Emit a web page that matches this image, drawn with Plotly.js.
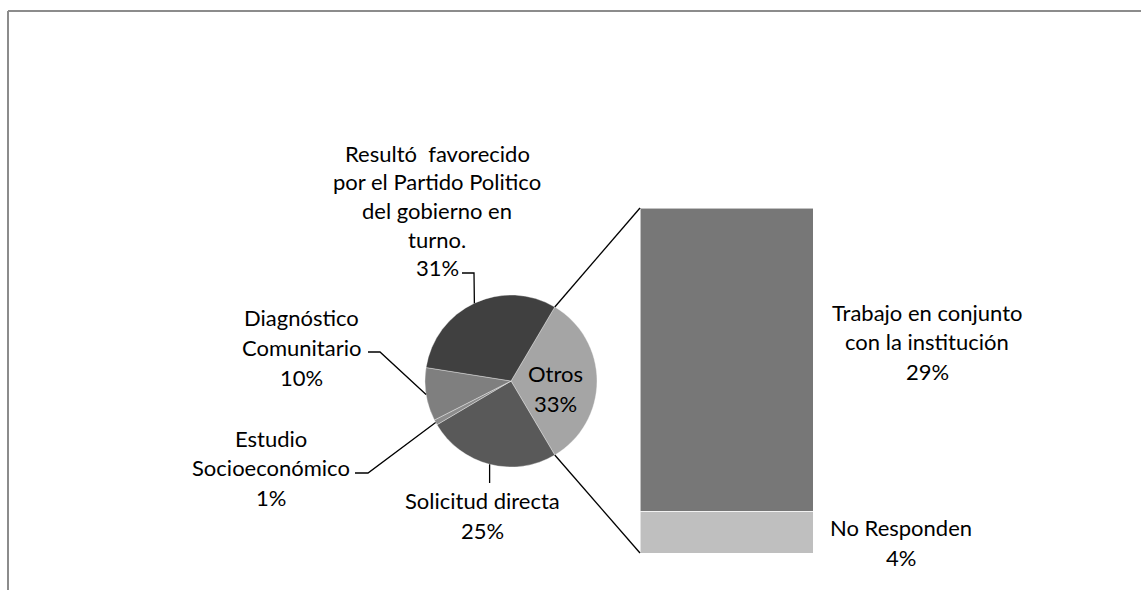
<!DOCTYPE html>
<html>
<head>
<meta charset="utf-8">
<script src="https://cdn.plot.ly/plotly-3.0.1.min.js"></script>
<style>
  html, body { margin: 0; padding: 0; background: #ffffff; }
  #chart { width: 1141px; height: 590px; }
</style>
</head>
<body>
<div id="chart"></div>
<script>
// ---------------- DATA ----------------
const pieCategories = ['Otros', 'Solicitud directa', 'Estudio Socioeconómico', 'Diagnóstico Comunitario',
  'Resultó  favorecido por el Partido Politico del gobierno en turno.'];
const pieValues = [33, 25, 1, 10, 31];
const pieLabelLines = [
  ['Otros'],
  ['Solicitud directa'],
  ['Estudio', 'Socioeconómico'],
  ['Diagnóstico', 'Comunitario'],
  ['Resultó  favorecido', 'por el Partido Politico', 'del gobierno en', 'turno.']
];
const barCategories = ['No Responden', 'Trabajo en conjunto con la institución'];
const barValues = [4, 29];
const barLabelLines = [
  ['No Responden'],
  ['Trabajo en conjunto', 'con la institución']
];

// ---------------- STYLE / LAYOUT CONFIG ----------------
const W = 1141, H = 590;
const FONT = 'Lato, "Open Sans", sans-serif';
const FS = 22;
const pieColors = ['#a5a5a5', '#595959', '#8c8c8c', '#7f7f7f', '#404040'];
const barColors = ['#bfbfbf', '#777777'];
const pie = { cx: 511, cy: 381, r: 86 };
const barBox = { left: 640, right: 813, top: 208, bottom: 553 };

// label placement (pixels): centre x, first line y, spacing, leader elbow
const pieLabelPos = [
  { x: 555, y: 373, dy: 30, inside: true },
  { x: 482, y: 500, dy: 30, leader: 'vertical', ly: 483 },
  { x: 271, y: 438, dy: 29.5, leader: [[355, 473], [368, 473]] },
  { x: 301, y: 317, dy: 30, leader: [[368, 352], [380, 352]] },
  { x: 437, y: 153, dy: 28.7, leader: [[462, 273], [474, 273]] }
];
const barLabelPos = [
  { x: 901, y: 527, dy: 30 },
  { x: 927, y: 312, dy: 29.5 }
];

// ---------------- BUILD ----------------
const px = x => x / W;
const py = y => 1 - y / H;

const pieTotal = pieValues.reduce((a, b) => a + b, 0);
const rotation = 90 - (pieValues[0] / pieTotal) * 360 / 2; // first slice centred on the right
function piePoint(compassDeg, rr) {
  const a = compassDeg * Math.PI / 180;
  return [pie.cx + rr * Math.sin(a), pie.cy - rr * Math.cos(a)];
}
// slice angles (clockwise from rotation)
const sliceAngles = [];
let acc = rotation;
pieValues.forEach(v => {
  const span = v / pieTotal * 360;
  sliceAngles.push({ start: acc, end: acc + span, mid: acc + span / 2 });
  acc += span;
});

const pieTrace = {
  type: 'pie',
  labels: pieCategories,
  values: pieValues,
  sort: false,
  direction: 'clockwise',
  rotation: rotation,
  textinfo: 'none',
  hoverinfo: 'skip',
  marker: { colors: pieColors, line: { color: 'rgba(255,255,255,0.35)', width: 1 } },
  domain: { x: [px(pie.cx - pie.r), px(pie.cx + pie.r)], y: [py(pie.cy + pie.r), py(pie.cy - pie.r)] },
  showlegend: false
};

const barTotal = barValues.reduce((a, b) => a + b, 0);
const barTraces = barValues.map((v, i) => ({
  type: 'bar',
  x: [0],
  y: [v],
  width: [1],
  name: barCategories[i],
  marker: { color: barColors[i], line: { color: 'rgba(255,255,255,0.55)', width: 1 } },
  hoverinfo: 'skip',
  showlegend: false,
  xaxis: 'x',
  yaxis: 'y'
}));

const annotations = [];
function addLines(lines, pos) {
  lines.forEach((t, k) => {
    annotations.push({
      text: t, x: px(pos.x), y: py(pos.y + k * pos.dy), xref: 'paper', yref: 'paper',
      xanchor: 'center', yanchor: 'middle', showarrow: false,
      font: { family: FONT, size: FS, color: '#000000' }
    });
  });
}
pieValues.forEach((v, i) => {
  const pct = Math.round(v / pieTotal * 100) + '%';
  addLines(pieLabelLines[i].concat([pct]), pieLabelPos[i]);
});
barValues.forEach((v, i) => {
  const pct = Math.round(v / pieTotal * 100) + '%';
  addLines(barLabelLines[i].concat([pct]), barLabelPos[i]);
});

const shapes = [];
const lineStyle = { color: '#000000', width: 1.3 };
function pathShape(pts) {
  const d = pts.map((p, k) => (k ? 'L' : 'M') + px(p[0]) + ',' + py(p[1])).join(' ');
  shapes.push({ type: 'path', path: d, xref: 'paper', yref: 'paper', line: lineStyle, layer: 'above' });
}
// leader lines
pieLabelPos.forEach((pos, i) => {
  if (pos.inside) return;
  const end = piePoint(sliceAngles[i].mid, pie.r);
  if (pos.leader === 'vertical') {
    pathShape([[end[0], pos.ly], end]);
  } else {
    pathShape(pos.leader.concat([end]));
  }
});
// connector lines from first slice to bar
const topPt = piePoint(sliceAngles[0].start, pie.r);
const botPt = piePoint(sliceAngles[0].end, pie.r);
pathShape([topPt, [barBox.left, barBox.top]]);
pathShape([botPt, [barBox.left, barBox.bottom]]);

// chart area border (top + left)
shapes.push({ type: 'line', xref: 'paper', yref: 'paper', x0: px(8), x1: 1, y0: py(11), y1: py(11),
  line: { color: '#8c8c8c', width: 2 } });
shapes.push({ type: 'line', xref: 'paper', yref: 'paper', x0: px(8), x1: px(8), y0: py(11), y1: 0,
  line: { color: '#8c8c8c', width: 2 } });

const layout = {
  width: W, height: H,
  margin: { l: 0, r: 0, t: 0, b: 0, pad: 0 },
  paper_bgcolor: '#ffffff', plot_bgcolor: 'rgba(0,0,0,0)',
  barmode: 'stack',
  bargap: 0,
  xaxis: { domain: [px(barBox.left), px(barBox.right)], range: [-0.5, 0.5], visible: false, fixedrange: true },
  yaxis: { domain: [py(barBox.bottom), py(barBox.top)], range: [0, barTotal], visible: false, fixedrange: true },
  showlegend: false,
  hovermode: false,
  annotations: annotations,
  shapes: shapes,
  font: { family: FONT, size: FS, color: '#000000' }
};

Plotly.newPlot('chart', [pieTrace].concat(barTraces), layout, { staticPlot: true, displayModeBar: false });
</script>
</body>
</html>
